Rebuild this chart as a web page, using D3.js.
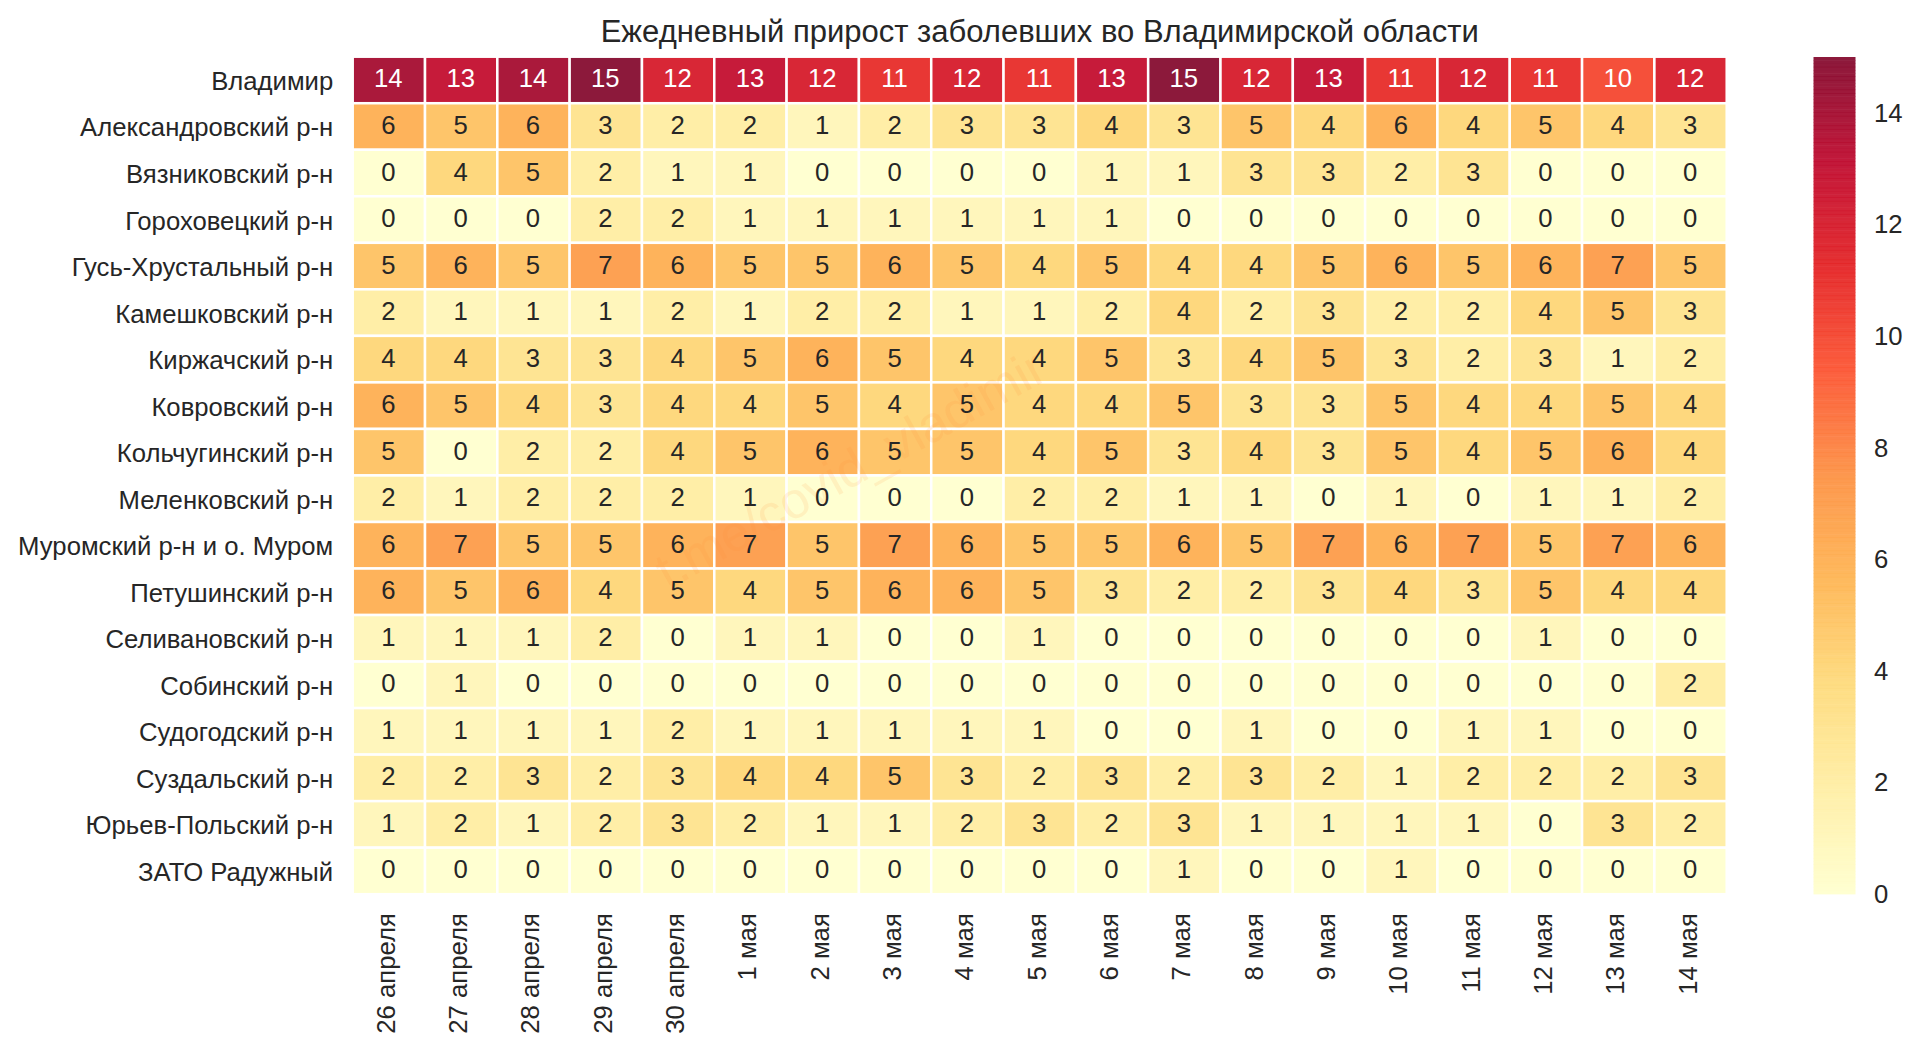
<!DOCTYPE html>
<html>
<head>
<meta charset="utf-8">
<script src="https://d3js.org/d3.v7.min.js"></script>
<style>
  html, body { margin: 0; padding: 0; background: #fff; }
  svg { display: block; }
  text { font-family: "Liberation Sans", Arial, sans-serif; fill: #262626; }
</style>
</head>
<body>
<svg id="chart" width="1920" height="1052" viewBox="0 0 1920 1052"></svg>
<script>
const districts = ["Владимир", "Александровский р-н", "Вязниковский р-н", "Гороховецкий р-н",
    "Гусь-Хрустальный р-н", "Камешковский р-н", "Киржачский р-н", "Ковровский р-н",
    "Кольчугинский р-н", "Меленковский р-н", "Муромский р-н и о. Муром", "Петушинский р-н",
    "Селивановский р-н", "Собинский р-н", "Судогодский р-н", "Суздальский р-н",
    "Юрьев-Польский р-н", "ЗАТО Радужный"];

const dates = ["26 апреля", "27 апреля", "28 апреля", "29 апреля", "30 апреля", "1 мая", "2 мая",
    "3 мая", "4 мая", "5 мая", "6 мая", "7 мая", "8 мая", "9 мая", "10 мая", "11 мая", "12 мая",
    "13 мая", "14 мая"];

const vladimir    = [14, 13, 14, 15, 12, 13, 12, 11, 12, 11, 13, 15, 12, 13, 11, 12, 11, 10, 12];
const aleksandrov = [6, 5, 6, 3, 2, 2, 1, 2, 3, 3, 4, 3, 5, 4, 6, 4, 5, 4, 3];
const vyazniki    = [0, 4, 5, 2, 1, 1, 0, 0, 0, 0, 1, 1, 3, 3, 2, 3, 0, 0, 0];
const gorokhovets = [0, 0, 0, 2, 2, 1, 1, 1, 1, 1, 1, 0, 0, 0, 0, 0, 0, 0, 0];
const gus         = [5, 6, 5, 7, 6, 5, 5, 6, 5, 4, 5, 4, 4, 5, 6, 5, 6, 7, 5];
const kameshkovo  = [2, 1, 1, 1, 2, 1, 2, 2, 1, 1, 2, 4, 2, 3, 2, 2, 4, 5, 3];
const kirzhach    = [4, 4, 3, 3, 4, 5, 6, 5, 4, 4, 5, 3, 4, 5, 3, 2, 3, 1, 2];
const kovrov      = [6, 5, 4, 3, 4, 4, 5, 4, 5, 4, 4, 5, 3, 3, 5, 4, 4, 5, 4];
const kolchugino  = [5, 0, 2, 2, 4, 5, 6, 5, 5, 4, 5, 3, 4, 3, 5, 4, 5, 6, 4];
const melenki     = [2, 1, 2, 2, 2, 1, 0, 0, 0, 2, 2, 1, 1, 0, 1, 0, 1, 1, 2];
const murom       = [6, 7, 5, 5, 6, 7, 5, 7, 6, 5, 5, 6, 5, 7, 6, 7, 5, 7, 6];
const petushki    = [6, 5, 6, 4, 5, 4, 5, 6, 6, 5, 3, 2, 2, 3, 4, 3, 5, 4, 4];
const selivanovo  = [1, 1, 1, 2, 0, 1, 1, 0, 0, 1, 0, 0, 0, 0, 0, 0, 1, 0, 0];
const sobinka     = [0, 1, 0, 0, 0, 0, 0, 0, 0, 0, 0, 0, 0, 0, 0, 0, 0, 0, 2];
const sudogda     = [1, 1, 1, 1, 2, 1, 1, 1, 1, 1, 0, 0, 1, 0, 0, 1, 1, 0, 0];
const suzdal      = [2, 2, 3, 2, 3, 4, 4, 5, 3, 2, 3, 2, 3, 2, 1, 2, 2, 2, 3];
const yuryev      = [1, 2, 1, 2, 3, 2, 1, 1, 2, 3, 2, 3, 1, 1, 1, 1, 0, 3, 2];
const raduzhny    = [0, 0, 0, 0, 0, 0, 0, 0, 0, 0, 0, 1, 0, 0, 1, 0, 0, 0, 0];

const rows = [vladimir, aleksandrov, vyazniki, gorokhovets, gus, kameshkovo, kirzhach, kovrov,
    kolchugino, melenki, murom, petushki, selivanovo, sobinka, sudogda, suzdal, yuryev, raduzhny];

const colorTicks = [0, 2, 4, 6, 8, 10, 12, 14];
const ylOrRd = ["#ffffcc", "#ffeda0", "#fed976", "#feb24c", "#fd8d3c", "#fc4e2a", "#e31a1c", "#bd0026", "#800026"];

const svg = d3.select("#chart");

// plot area
const plotLeft = 352.7, plotRight = 1726.7, plotTop = 56.7, plotBottom = 894.2;
const fontSize = 25.7;

const x = d3.scaleBand().domain(dates).range([plotLeft, plotRight]);
const y = d3.scaleBand().domain(districts).range([plotTop, plotBottom]);

const color = d3.scaleLinear()
    .domain(ylOrRd.map((c, i) => i * 15 / (ylOrRd.length - 1)))
    .range(ylOrRd);

const cells = rows.flatMap((row, r) => row.map((v, c) => ({ district: districts[r], date: dates[c], value: v })));

// Cells
svg.append("g").selectAll("rect")
    .data(cells)
    .enter()
    .append("rect")
    .attr("x", d => x(d.date))
    .attr("y", d => y(d.district))
    .attr("width", x.bandwidth())
    .attr("height", y.bandwidth())
    .attr("fill", d => color(d.value))
    .attr("fill-opacity", 0.9)
    .attr("stroke", "#fff")
    .attr("stroke-width", 2.5);

// Watermark
svg.append("text")
    .attr("transform", "translate(668,590) rotate(-29)")
    .attr("font-size", 51)
    .style("fill", "#fd8d3c")
    .attr("fill-opacity", 0.12)
    .text("t.me/covid_vladimir");

// Annotations
svg.append("g").selectAll("text")
    .data(cells)
    .enter()
    .append("text")
    .attr("x", d => x(d.date) + x.bandwidth() / 2 - 0.5)
    .attr("y", d => y(d.district) + y.bandwidth() / 2 + 7.5)
    .attr("text-anchor", "middle")
    .attr("font-size", fontSize)
    .style("fill", d => d.value >= 10 ? "#fff" : "#262626")
    .text(d => d.value);

// Row labels
svg.append("g").selectAll("text")
    .data(districts)
    .enter()
    .append("text")
    .attr("x", plotLeft - 19.5)
    .attr("y", d => y(d) + y.bandwidth() / 2 + 10)
    .attr("text-anchor", "end")
    .attr("font-size", fontSize)
    .text(d => d);

// Date labels
svg.append("g").selectAll("text")
    .data(dates)
    .enter()
    .append("text")
    .attr("transform", d => `translate(${x(d) + x.bandwidth() / 2 + 6},${plotBottom + 19}) rotate(-90)`)
    .attr("text-anchor", "end")
    .attr("font-size", fontSize)
    .text(d => d);

// Title
svg.append("text")
    .attr("x", (plotLeft + plotRight) / 2)
    .attr("y", 41.5)
    .attr("text-anchor", "middle")
    .attr("font-size", 31)
    .text("Ежедневный прирост заболевших во Владимирской области");

// Colour bar
const barX = 1813.5, barW = 42;
const barScale = d3.scaleLinear().domain([0, 15]).range([894, 57]);
const stepScale = d3.scaleLinear().domain([0, 256]).range([894, 57]);
const steps = d3.range(0, 256);

svg.append("g").selectAll("rect")
    .data(steps)
    .enter()
    .append("rect")
    .attr("x", barX)
    .attr("y", d => stepScale(d + 1))
    .attr("width", barW)
    .attr("height", d => stepScale(d) - stepScale(d + 1) + 0.4)
    .attr("fill", d => color(d * 15 / 255))
    .attr("fill-opacity", 0.9);

svg.append("g").selectAll("text")
    .data(colorTicks)
    .enter()
    .append("text")
    .attr("x", 1874)
    .attr("y", d => barScale(d) + 9)
    .attr("font-size", fontSize)
    .text(d => d);
</script>
</body>
</html>
